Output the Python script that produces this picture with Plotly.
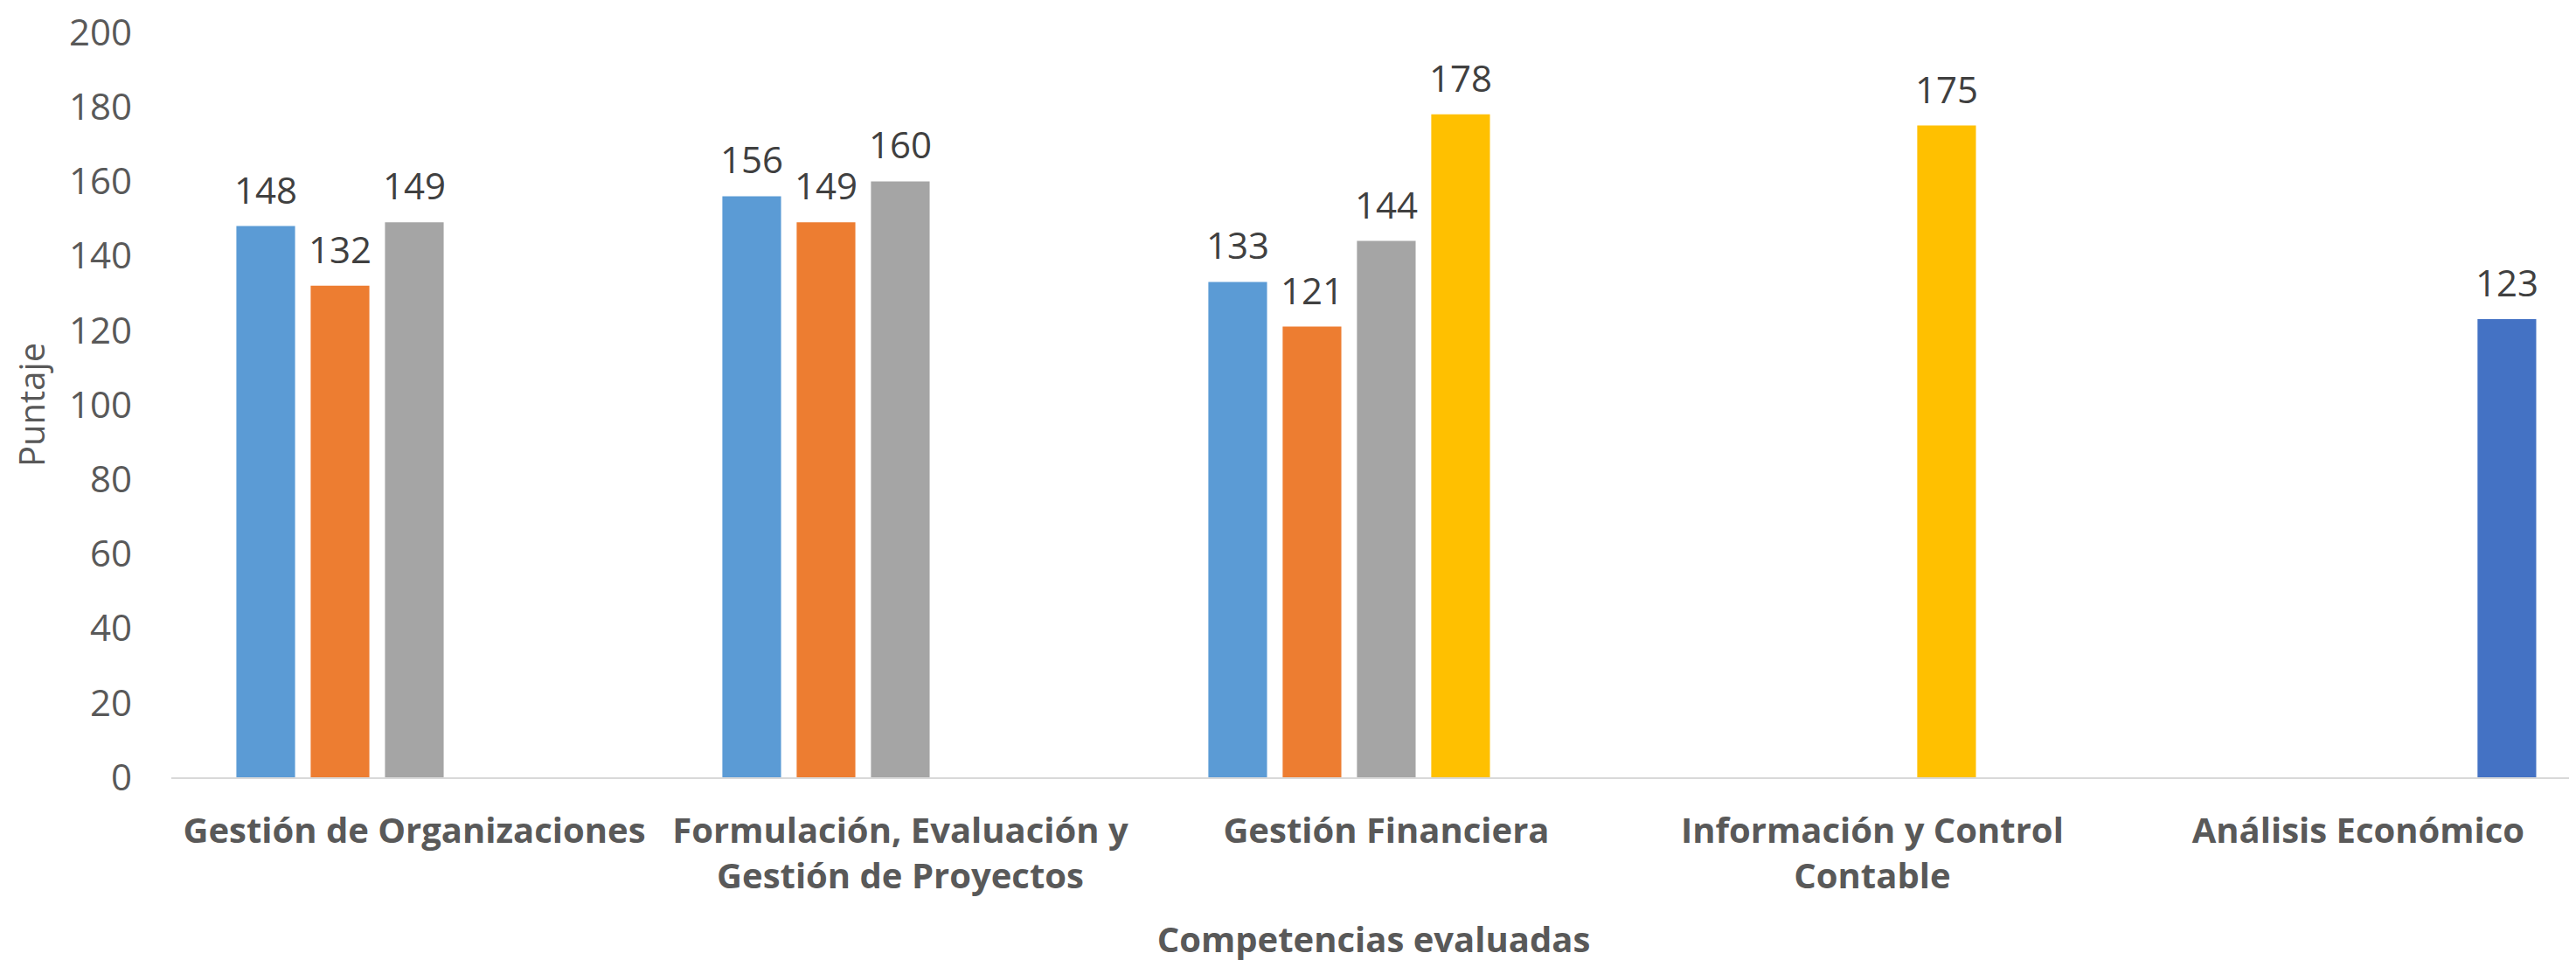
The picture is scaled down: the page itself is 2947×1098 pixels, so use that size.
import plotly.graph_objects as go

categories = [
    "Gestión de Organizaciones",
    "Formulación, Evaluación y<br>Gestión de Proyectos",
    "Gestión Financiera",
    "Información y Control<br>Contable",
    "Análisis Económico",
]

serie_1 = [148, 156, 133, None, None]
serie_2 = [132, 149, 121, None, None]
serie_3 = [149, 160, 144, None, None]
serie_4 = [None, None, 178, 175, None]
serie_5 = [None, None, None, None, 123]

series = [serie_1, serie_2, serie_3, serie_4, serie_5]
colors = ["#5B9BD5", "#ED7D31", "#A5A5A5", "#FFC000", "#4472C4"]

y_ticks = [0, 20, 40, 60, 80, 100, 120, 140, 160, 180, 200]

FONT = "Open Sans"
BARGAP = 0.2356
BARGROUPGAP = 0.21

fig = go.Figure()
for values, color in zip(series, colors):
    fig.add_trace(go.Bar(x=categories, y=values, marker_color=color, marker_line_width=0))

# data labels, placed over the middle of each bar slot
slot = (1 - BARGAP) / len(series)
for i, values in enumerate(series):
    for j, v in enumerate(values):
        if v is None:
            continue
        fig.add_annotation(
            x=j + (i - (len(series) - 1) / 2) * slot,
            y=v,
            text=str(v),
            showarrow=False,
            yanchor="bottom",
            yshift=12,
            font=dict(family=FONT, size=42, color="#404040"),
        )

# the page body adds an 8px offset, so margins are trimmed to compensate
fig.update_layout(
    width=2947,
    height=1098,
    margin=dict(l=188, r=8, t=29, b=217),
    barmode="group",
    bargap=BARGAP,
    bargroupgap=BARGROUPGAP,
    showlegend=False,
    plot_bgcolor="white",
    paper_bgcolor="white",
    font=dict(family=FONT, color="#595959"),
)

fig.update_xaxes(
    range=[-0.5, 4.448],
    showline=True,
    linecolor="#D9D9D9",
    linewidth=2,
    showgrid=False,
    ticks="",
    tickfont=dict(family=FONT, size=40, color="#595959", weight="bold"),
    ticklabelstandoff=25,
    title=dict(
        text="<b>Competencias evaluadas</b>",
        font=dict(family=FONT, size=40, color="#595959"),
        standoff=34,
    ),
    automargin=False,
)

fig.update_yaxes(
    range=[0, 200],
    tickvals=y_ticks,
    showgrid=False,
    zeroline=False,
    showline=False,
    ticks="",
    tickfont=dict(family=FONT, size=42, color="#595959"),
    ticklabelstandoff=44,
    ticklabeloverflow="allow",
    title=dict(text="Puntaje", font=dict(family=FONT, size=40, color="#595959"), standoff=15),
    automargin=False,
)

fig.write_html("out.html")
